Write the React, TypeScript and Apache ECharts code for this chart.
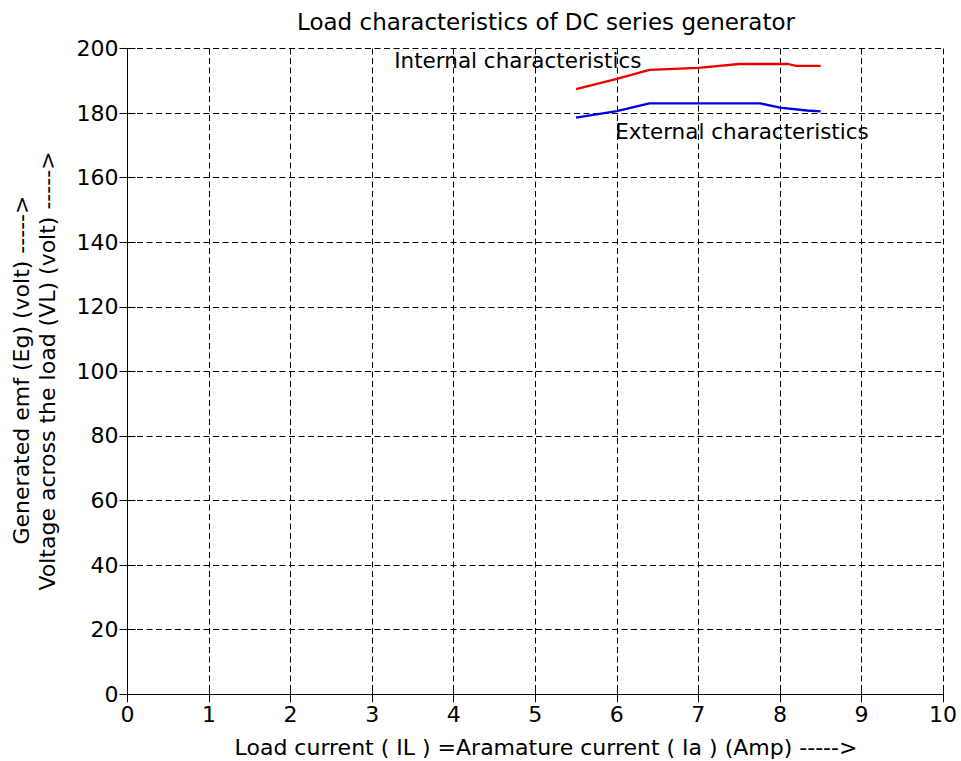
import React, { useEffect, useRef } from "react";
import * as echarts from "echarts";

// Load current (A) and measured voltages for the series generator
const iaInternal = [5.5, 6.0, 6.4, 7.0, 7.5, 8.1, 8.2, 8.5];
const egInternal = [187.4, 190.6, 193.4, 194.0, 195.2, 195.2, 194.6, 194.6];
const iaExternal = [5.5, 6.0, 6.4, 7.0, 7.76, 8.0, 8.33, 8.5];
const vlExternal = [178.6, 180.6, 183.0, 183.0, 183.0, 181.7, 180.8, 180.5];

// Curve annotations placed in data coordinates (left edge, vertical middle)
const annotations = [
  { name: "Internal characteristics", value: [3.27, 196.2] },
  { name: "External characteristics", value: [5.98, 174.3] },
];

const titleText = "Load characteristics of DC series generator";
const xLabel = "Load current ( IL ) =Aramature current ( Ia ) (Amp) ----->";
const yLabel1 = "Generated emf (Eg) (volt) ----->";
const yLabel2 = "Voltage across the load (VL) (volt) ----->";

const FONT = "DejaVu Sans";

export default function App() {
  const ref = useRef<HTMLDivElement>(null);

  useEffect(() => {
    document.body.style.margin = "0";
    const chart = echarts.init(ref.current!, null, { renderer: "svg" });
    const pair = (xs: number[], ys: number[]) => xs.map((x, i) => [x, ys[i]]);
    const textStyle = { fontFamily: FONT, fontSize: 22, color: "#000" };
    const axisLine = { show: true, lineStyle: { color: "#000", width: 1 } };
    const tick = { show: true, inside: true, length: 8, lineStyle: { color: "#000" } };
    const labelFont = `22px "${FONT}"`;

    chart.setOption({
      animation: false,
      backgroundColor: "#fff",
      grid: { left: 127.5, right: 18, top: 48.5, bottom: 66.7, show: false },
      xAxis: [
        {
          type: "value", min: 0, max: 10, interval: 1, position: "bottom",
          axisLine, axisTick: tick,
          axisLabel: { ...textStyle, margin: 9 },
          splitLine: { show: true, lineStyle: { color: "#000", type: [6, 3.5], width: 1 } },
        },
        {
          type: "value", min: 0, max: 10, interval: 1, position: "top",
          axisLine, axisTick: tick, axisLabel: { show: false }, splitLine: { show: false },
        },
      ],
      yAxis: [
        {
          type: "value", min: 0, max: 200, interval: 20, position: "left",
          axisLine, axisTick: tick,
          axisLabel: { ...textStyle, margin: 9 },
          splitLine: { show: true, lineStyle: { color: "#000", type: [6, 3.5], width: 1 } },
        },
        {
          type: "value", min: 0, max: 200, interval: 20, position: "right",
          axisLine, axisTick: tick, axisLabel: { show: false }, splitLine: { show: false },
        },
      ],
      series: [
        {
          type: "line", name: "Internal", data: pair(iaInternal, egInternal),
          showSymbol: false, lineStyle: { color: "#e80000", width: 2.3 },
        },
        {
          type: "line", name: "External", data: pair(iaExternal, vlExternal),
          showSymbol: false, lineStyle: { color: "#0000e8", width: 2.3 },
        },
        {
          type: "scatter", data: annotations, symbolSize: 0, silent: true,
          itemStyle: { opacity: 1 },
          label: {
            show: true, position: "right", distance: 0, formatter: "{b}",
            fontFamily: FONT, fontSize: 21.5, color: "#000", opacity: 1, verticalAlign: "middle",
          },
        },
      ],
      graphic: [
        {
          type: "text", x: 546, y: 22,
          style: { text: titleText, font: `23px "${FONT}"`, fill: "#000", align: "center", verticalAlign: "middle" },
        },
        {
          type: "text", x: 546, y: 747,
          style: { text: xLabel, font: labelFont, fill: "#000", align: "center", verticalAlign: "middle" },
        },
        {
          type: "text", x: 21, y: 370, rotation: Math.PI / 2,
          style: { text: yLabel1, font: labelFont, fill: "#000", align: "center", verticalAlign: "middle" },
        },
        {
          type: "text", x: 47, y: 371, rotation: Math.PI / 2,
          style: { text: yLabel2, font: labelFont, fill: "#000", align: "center", verticalAlign: "middle" },
        },
      ],
    });
    return () => chart.dispose();
  }, []);

  return <div ref={ref} style={{ width: 961, height: 761 }} />;
}
